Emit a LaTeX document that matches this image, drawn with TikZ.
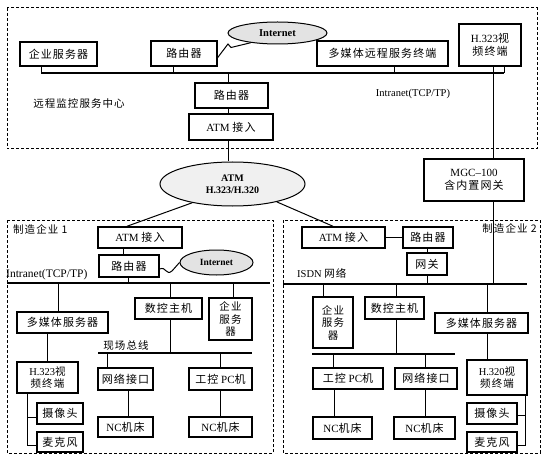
\documentclass[tikz,border=0pt]{standalone}
\usepackage{fontspec}
\setmainfont{Liberation Serif}
\newfontfamily\cjk[LetterSpace=10]{Noto Sans CJK SC}
\usetikzlibrary{shapes.geometric}
\tikzset{
 bx/.style={draw, line width=1.5pt, inner sep=0pt, align=center, fill=white, font=\fontsize{11}{12.5}\selectfont},
 ln/.style={line width=1pt},
 busln/.style={line width=2pt},
 dbox/.style={draw, line width=1pt, dash pattern=on 3pt off 2pt},
 cloud/.style={ellipse, draw, line width=1pt, fill=gray!22, inner sep=0pt, align=center},
 lbl/.style={inner sep=0pt, font=\fontsize{10.5}{12}\selectfont},
}
\begin{document}
\begin{tikzpicture}[x=1pt,y=-1pt]
\useasboundingbox[fill=white] (0,0) rectangle (545,462);
% ---------------- top centre ----------------
\draw[dbox] (7,8) rectangle (537,149);
\node[bx, minimum width=77pt, minimum height=24pt] (qyT) at (58.5,54) {\cjk 企业服务器};
\node[bx, minimum width=66pt, minimum height=25pt] (lyT) at (184,53.5) {\cjk 路由器};
\node[cloud, minimum width=99pt, minimum height=22pt] (inT) at (277.5,33) {\fontsize{10.5}{11}\selectfont\bfseries Internet};
\node[bx, minimum width=131pt, minimum height=25pt] (dmT) at (382.5,53.5) {\cjk 多媒体远程服务终端};
\node[bx, minimum width=62pt, minimum height=42pt] (hT) at (490,45) {H.323{\cjk 视}\\{\cjk 频终端}};
\node[bx, minimum width=73pt, minimum height=25pt] (lyM) at (231.5,95.5) {\cjk 路由器};
\node[bx, minimum width=84pt, minimum height=26pt] (atmT) at (231,127) {ATM {\cjk 接入}};
\node[lbl, font=\fontsize{10.5}{12}\selectfont\cjk] (lbC) at (79,104) {远程监控服务中心};
\node[lbl] (lbI) at (413,94) {Intranet(TCP/TP)};
\coordinate (bTa) at (41,73);
\coordinate (bTb) at (504,73);
\draw[busln] (bTa) -- (bTb);
\draw[ln] (qyT.south -| bTa) -- (bTa);
\draw[ln] (lyT.south -| 173,0) -- (173,73);
\draw[ln] (dmT.south -| 394,0) -- (394,73);
\draw[ln] (hT.south -| bTb) -- (bTb);
\draw[ln] (228,73) -- (lyM.north -| 228,0);
\draw[ln] (lyM.south -| 228,0) -- (atmT.north -| 228,0);
\draw[ln] ([yshift=-4pt]lyT.east) -- (228,44) -- (231,47.5) -- (inT.200);
% ---------------- WAN ----------------
\node[cloud, minimum width=145pt, minimum height=44pt, fill=gray!12, font=\fontsize{10}{12}\selectfont\bfseries] (atmC) at (232.5,184) {ATM\\H.323/H.320};
\node[bx, minimum width=100pt, minimum height=42pt] (mgc) at (474,180) {MGC--100\\{\cjk 含内置网关}};
\draw[ln] (atmT.south -| 228,0) -- (atmC.north -| 228,0);
\draw[ln] (hT.south -| mgc.north) ++(19,0) coordinate (hd) -- (mgc.north -| hd);
% ---------------- enterprise 1 ----------------
\draw[dbox] (7,220) rectangle (273,453);
\node[lbl, font=\fontsize{10.5}{12}\selectfont\cjk, anchor=west] (lb1) at (13,229) {制造企业 1};
\node[bx, minimum width=84pt, minimum height=21pt] (atm1) at (140,237.5) {ATM {\cjk 接入}};
\node[bx, minimum width=60pt, minimum height=22pt] (ly1) at (129,266) {\cjk 路由器};
\node[cloud, minimum width=73pt, minimum height=25pt] (in1) at (216.5,262.5) {\fontsize{9.5}{10}\selectfont\bfseries Internet};
\node[lbl, anchor=west, font=\fontsize{11.5}{12}\selectfont] (lbI1) at (6,275) {Intranet(TCP/TP)};
\coordinate (b1a) at (7,283);
\coordinate (b1b) at (270,283);
\draw[busln] (b1a) -- (b1b);
\draw[ln] (atmC.205) -- (atm1.north -| 127,0);
\draw[ln] (atm1.south -| 123,0) -- (ly1.north -| 123,0);
\draw[ln] (ly1.south -| 128,0) -- (128,283);
\draw[ln] ([yshift=-3pt]ly1.east) .. controls (166,266) and (166,276) .. (172,271) .. controls (176,267) .. (in1.west);
\node[bx, minimum width=91pt, minimum height=21pt] (dm1) at (62.5,322.5) {\cjk 多媒体服务器};
\node[bx, minimum width=67pt, minimum height=21pt] (sk1) at (168.5,308.5) {\cjk 数控主机};
\node[bx, minimum width=43pt, minimum height=42pt, font=\fontsize{10.5}{12.5}\selectfont] (qy1) at (230.5,319) {\cjk 企业\\\cjk 服务\\\cjk 器};
\draw[ln] (58,283) -- (dm1.north -| 58,0);
\draw[ln] (170,283) -- (sk1.north -| 170,0);
\draw[ln] (233,283) -- (qy1.north -| 233,0);
\node[lbl, font=\fontsize{10.5}{12}\selectfont\cjk] (lbF1) at (126,346) {现场总线};
\coordinate (f1a) at (98,353);
\coordinate (f1b) at (252,353);
\draw[busln] (f1a) -- (f1b);
\draw[ln] (sk1.south -| 170,0) -- (170,353);
\node[bx, minimum width=55pt, minimum height=22pt] (wl1) at (125.5,379) {\cjk 网络接口};
\node[bx, minimum width=63pt, minimum height=22pt] (gk1) at (220.5,379) {{\cjk 工控} PC{\cjk 机}};
\node[bx, minimum width=55pt, minimum height=20pt] (nc1a) at (125.5,427) {NC{\cjk 机床}};
\node[bx, minimum width=63pt, minimum height=20pt] (nc1b) at (220.5,427) {NC{\cjk 机床}};
\draw[ln] (107,353) -- (wl1.north -| 107,0);
\draw[ln] (220,353) -- (gk1.north -| 220,0);
\draw[ln] (wl1.south -| 128,0) -- (nc1a.north -| 128,0);
\draw[ln] (gk1.south -| 220,0) -- (nc1b.north -| 220,0);
\node[bx, minimum width=61pt, minimum height=31pt, font=\fontsize{10.5}{12}\selectfont] (h1) at (47.5,377.5) {H.323{\cjk 视}\\{\cjk 频终端}};
\node[bx, minimum width=46pt, minimum height=21pt] (sx1) at (60,413.5) {\cjk 摄像头};
\node[bx, minimum width=46pt, minimum height=20pt] (mk1) at (60,442) {\cjk 麦克风};
\draw[ln] (dm1.south -| 47,0) -- (h1.north -| 47,0);
\draw[ln] (h1.south -| 27,0) -- (27,445) -- (mk1.west |- 27,445);
\draw[ln] (27,417) -- (sx1.west |- 27,417);
% ---------------- enterprise 2 ----------------
\draw[dbox] (283,220) rectangle (540,453);
\node[lbl, font=\fontsize{10.5}{12}\selectfont\cjk, anchor=east] (lb2) at (537,228) {制造企业 2};
\node[bx, minimum width=83pt, minimum height=21pt] (atm2) at (343.5,237.5) {ATM {\cjk 接入}};
\node[bx, minimum width=50pt, minimum height=21pt] (ly2) at (428,237.5) {\cjk 路由器};
\node[bx, minimum width=40pt, minimum height=22pt] (gw) at (427,264) {\cjk 网关};
\node[lbl, anchor=west] (lbS) at (297,273) {ISDN {\cjk 网络}};
\coordinate (b2a) at (283,284);
\coordinate (b2b) at (527,284);
\draw[busln] (b2a) -- (b2b);
\draw[ln] (atm2) -- (ly2);
\draw[ln] (atmC.-22) -- (atm2.north -| 333,0);
\draw[ln] (ly2.south -| gw.north) -- (gw.north);
\draw[ln] (gw.south) -- (gw.south |- b2a);
\draw[ln] (mgc.south -| hd) -- (hd |- b2a);
\node[bx, minimum width=40pt, minimum height=51pt, font=\fontsize{10.5}{12.5}\selectfont] (qy2) at (333,322.5) {\cjk 企业\\\cjk 服务\\\cjk 器};
\node[bx, minimum width=59pt, minimum height=22pt] (sk2) at (394.5,308) {\cjk 数控主机};
\node[bx, minimum width=93pt, minimum height=20pt] (dm2) at (481.5,323) {\cjk 多媒体服务器};
\draw[ln] (323,284) -- (qy2.north -| 323,0);
\draw[ln] (396,284) -- (sk2.north -| 396,0);
\draw[ln] (487,284) -- (dm2.north -| 487,0);
\coordinate (f2a) at (312,354);
\coordinate (f2b) at (455,354);
\draw[busln] (f2a) -- (f2b);
\draw[ln] (sk2.south -| 396,0) -- (396,354);
\node[bx, minimum width=70pt, minimum height=21pt] (gk2) at (348,378.5) {{\cjk 工控} PC{\cjk 机}};
\node[bx, minimum width=62pt, minimum height=21pt] (wl2) at (426,378.5) {\cjk 网络接口};
\node[bx, minimum width=59pt, minimum height=22pt] (nc2a) at (342.5,428) {NC{\cjk 机床}};
\node[bx, minimum width=61pt, minimum height=22pt] (nc2b) at (424.5,428) {NC{\cjk 机床}};
\draw[ln] (333,354) -- (gk2.north -| 333,0);
\draw[ln] (425,354) -- (wl2.north -| 425,0);
\draw[ln] (gk2.south -| 334,0) -- (nc2a.north -| 334,0);
\draw[ln] (wl2.south -| 425,0) -- (nc2b.north -| 425,0);
\node[bx, minimum width=60pt, minimum height=35pt, font=\fontsize{10.5}{12}\selectfont] (h2) at (497,377.5) {H.320{\cjk 视}\\{\cjk 频终端}};
\node[bx, minimum width=50pt, minimum height=21pt] (sx2) at (492,413.5) {\cjk 摄像头};
\node[bx, minimum width=50pt, minimum height=20pt] (mk2) at (492,442) {\cjk 麦克风};
\draw[ln] (dm2.south -| 487,0) -- (h2.north -| 487,0);
\draw[ln] (h2.south -| 525,0) -- (525,445) -- (mk2.east |- 525,445);
\draw[ln] (525,415) -- (sx2.east |- 525,415);
\end{tikzpicture}
\end{document}
